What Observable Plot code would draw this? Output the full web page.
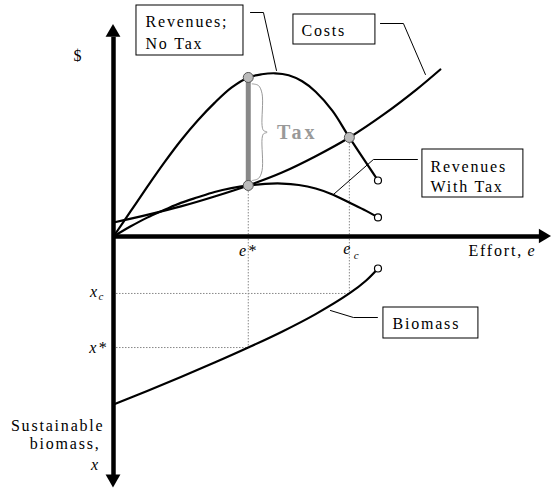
<!DOCTYPE html>
<html><head><meta charset="utf-8">
<script src="https://cdn.jsdelivr.net/npm/d3@7"></script>
<script src="https://cdn.jsdelivr.net/npm/@observablehq/plot@0.6"></script>
<style>
body{margin:0;background:#fff;}
svg{display:block}
svg text{letter-spacing:1.8px;font-family:"Liberation Serif",serif;}
</style>
</head><body><div id="chart"></div>
<script>
// ---- data (effort e, dollars $, biomass x) ----
const revNoTaxEffort = [0, 0.5, 1, 1.5, 2, 2.5, 3, 3.5, 4, 4.4, 4.8, 5.2, 5.6, 6, 6.5, 7, 7.85];
const revNoTax       = [0, 1.55, 3.1, 4.6, 6.0, 7.25, 8.35, 9.3, 9.94, 10.14, 10.2, 10.08, 9.7, 9.05, 7.85, 6.19, 3.5];
const revTaxEffort   = [0, 0.5, 1, 1.5, 2, 2.5, 3, 3.5, 4, 4.5, 5, 5.5, 6, 6.5, 7, 7.5, 7.85];
const revWithTax     = [0, 0.62, 1.18, 1.65, 2.1, 2.45, 2.78, 3.02, 3.19, 3.29, 3.31, 3.22, 3.0, 2.63, 2.12, 1.6, 1.19];
const costEffort     = [0, 1, 2, 3, 4, 5, 6, 7, 8, 9, 9.7];
const costs          = [0.875, 1.35, 1.88, 2.5, 3.19, 4.0, 5.02, 6.19, 7.6, 9.2, 10.44];
const biomassEffort  = [0, 1, 2, 3, 4, 5, 6, 7, 7.5, 7.85];
const biomass        = [10.5, 9.65, 8.78, 7.88, 6.94, 5.95, 4.85, 3.56, 2.75, 2.0];
const eStar = 4, eC = 7;
const revAtStar = 9.94, costAtStar = 3.19, costAtC = 6.19;
const xStar = 6.94, xC = 3.56;

const zip = (xs, ys) => xs.map((x, i) => ({x, y: ys[i]}));
const last = a => a[a.length - 1];

// ---- annotation geometry (in data units) ----
const brace = zip([4.116, 4.30, 4.41, 4.41, 4.45, 4.56, 4.45, 4.41, 4.41, 4.30, 4.116],
                  [9.54, 9.44, 8.92, 6.94, 6.63, 6.52, 6.41, 6.125, 4.125, 3.625, 3.5]);
const leaders = [
  zip([4.065, 4.451, 4.837], [14.0, 14.0, 10.375]),
  zip([7.923, 8.605, 9.258], [13.3125, 13.3125, 10.125]),
  zip([9.021, 7.715, 6.528], [4.8125, 4.8125, 2.625]),
  zip([7.834, 7.122, 6.439], [-5.0625, -5.0625, -4.625])
];
const boxes = [
  {x1: 0.682, x2: 3.858, y1: 14.4375, y2: 11.3125},
  {x1: 5.341, x2: 7.774, y1: 13.875, y2: 12.0},
  {x1: 9.169, x2: 12.166, y1: 5.4375, y2: 2.4375},
  {x1: 8.012, x2: 10.831, y1: -4.4375, y2: -6.375}
];
const labels = [
  {x: 0.95, y: 13.4375, t: "Revenues;"},
  {x: 0.95, y: 12.0625, t: "No Tax"},
  {x: 5.579, y: 12.85, t: "Costs"},
  {x: 9.407, y: 4.375, t: "Revenues"},
  {x: 9.407, y: 3.125, t: "With Tax"},
  {x: 8.279, y: -5.4375, t: "Biomass"},
  {x: 10.534, y: -0.875, t: "Effort,"}
];
const rightLabels = [
  {x: -0.267, y: -11.8125, t: "Sustainable"},
  {x: -0.386, y: -12.9375, t: "biomass,"}
];
const italicLabels = [
  {x: 12.42, y: -0.875, t: "e", a: "start"},
  {x: eStar, y: -0.875, t: "e*", a: "middle"},
  {x: 6.95, y: -0.8, t: "e", a: "middle"},
  {x: -0.564, y: -3.47, t: "x", a: "middle"},
  {x: -0.445, y: -xStar, t: "x*", a: "middle"},
  {x: -0.534, y: -14.25, t: "x", a: "end"}
];
const subLabels = [
  {x: 7.2, y: -1.19, t: "c"},
  {x: -0.371, y: -3.75, t: "c"}
];

const black = "#000", gray = "#888";
const serif = "Liberation Serif";
const dot = {stroke: gray, strokeWidth: 1, strokeDasharray: "1.5,1.5"};

const plot = Plot.plot({
  width: 551, height: 488, margin: 0,
  x: {domain: [0, 13], range: [113, 551], axis: null},
  y: {domain: [-15.75, 14.75], range: [488, 0], axis: null},
  style: {fontFamily: serif, background: "white", color: "black"},
  marks: [
    // dotted guides
    Plot.ruleX([eStar], {y1: costAtStar, y2: -xStar, ...dot}),
    Plot.ruleX([eC], {y1: costAtC, y2: -xC, ...dot}),
    Plot.ruleY([-xC], {x1: 0, x2: eC, ...dot}),
    Plot.ruleY([-xStar], {x1: 0, x2: eStar, ...dot}),
    // axes
    Plot.ruleX([0], {y1: -14.95, y2: 12.45, stroke: black, strokeWidth: 4.5}),
    Plot.ruleY([0], {x1: 0, x2: 12.7, stroke: black, strokeWidth: 4.5}),
    Plot.areaX([{y: 12.45, a: -0.22, b: 0.22}, {y: 13.25, a: 0, b: 0}], {y: "y", x1: "a", x2: "b", fill: black}),
    Plot.areaX([{y: -14.9, a: -0.22, b: 0.22}, {y: -15.72, a: 0, b: 0}], {y: "y", x1: "a", x2: "b", fill: black}),
    Plot.areaY([{x: 12.64, a: -0.45, b: 0.45}, {x: 13.0, a: 0, b: 0}], {x: "x", y1: "a", y2: "b", fill: black}),
    // curves
    Plot.line(zip(costEffort, costs), {x: "x", y: "y", curve: "catmull-rom", stroke: black, strokeWidth: 2.2}),
    Plot.line(zip(revTaxEffort, revWithTax), {x: "x", y: "y", curve: "catmull-rom", stroke: black, strokeWidth: 2.2}),
    Plot.line(zip(revNoTaxEffort, revNoTax), {x: "x", y: "y", curve: "catmull-rom", stroke: black, strokeWidth: 2.2}),
    Plot.line(zip(biomassEffort, biomass), {x: "x", y: d => -d.y, curve: "catmull-rom", stroke: black, strokeWidth: 2.2}),
    // tax bar and brace
    Plot.ruleX([eStar], {y1: costAtStar, y2: revAtStar, stroke: gray, strokeWidth: 5}),
    Plot.line(brace, {x: "x", y: "y", curve: "catmull-rom", stroke: "#999", strokeWidth: 1}),
    Plot.text([{x: 4.85, y: 6.5}], {x: "x", y: "y", text: () => "Tax", textAnchor: "start", fontFamily: serif, fontSize: 20, fontWeight: "bold", fill: "#999"}),
    // leaders
    ...leaders.map(l => Plot.line(l, {x: "x", y: "y", stroke: black, strokeWidth: 1})),
    // label boxes
    Plot.rect(boxes, {x1: "x1", x2: "x2", y1: "y1", y2: "y2", fill: "white", stroke: black, strokeWidth: 1}),
    // labels
    Plot.text(labels, {x: "x", y: "y", text: "t", textAnchor: "start", fontFamily: serif, fontSize: 16, fill: black}),
    Plot.text(rightLabels, {x: "x", y: "y", text: "t", textAnchor: "end", fontFamily: serif, fontSize: 16, fill: black}),
    Plot.text(italicLabels, {x: "x", y: "y", text: "t", textAnchor: d => d.a, fontFamily: serif, fontSize: 16, fontStyle: "italic", fill: black}),
    Plot.text(subLabels, {x: "x", y: "y", text: "t", textAnchor: "middle", fontFamily: serif, fontSize: 11, fontStyle: "italic", fill: black}),
    Plot.text([{x: -1.068, y: 11.3125}], {x: "x", y: "y", text: () => "$", textAnchor: "middle", fontFamily: serif, fontSize: 16, fill: black}),
    // points
    Plot.dot([{x: eStar, y: revAtStar}, {x: eStar, y: costAtStar}, {x: eC, y: costAtC}],
             {x: "x", y: "y", r: 5, fill: "#bbb", stroke: "#555", strokeWidth: 1}),
    Plot.dot([{x: last(revNoTaxEffort), y: last(revNoTax)}, {x: last(revTaxEffort), y: last(revWithTax)},
              {x: last(biomassEffort), y: -last(biomass)}],
             {x: "x", y: "y", r: 3.5, fill: "white", stroke: black, strokeWidth: 1.2})
  ]
});
d3.select(plot).selectAll("text").filter(function(){ return this.textContent === "Tax"; }).style("letter-spacing", "3px");
d3.select(plot).selectAll("text").filter(function(){ return this.textContent === "c" || this.textContent === "$"; }).style("letter-spacing", "0px");
document.getElementById("chart").appendChild(plot);
</script>
</body></html>
